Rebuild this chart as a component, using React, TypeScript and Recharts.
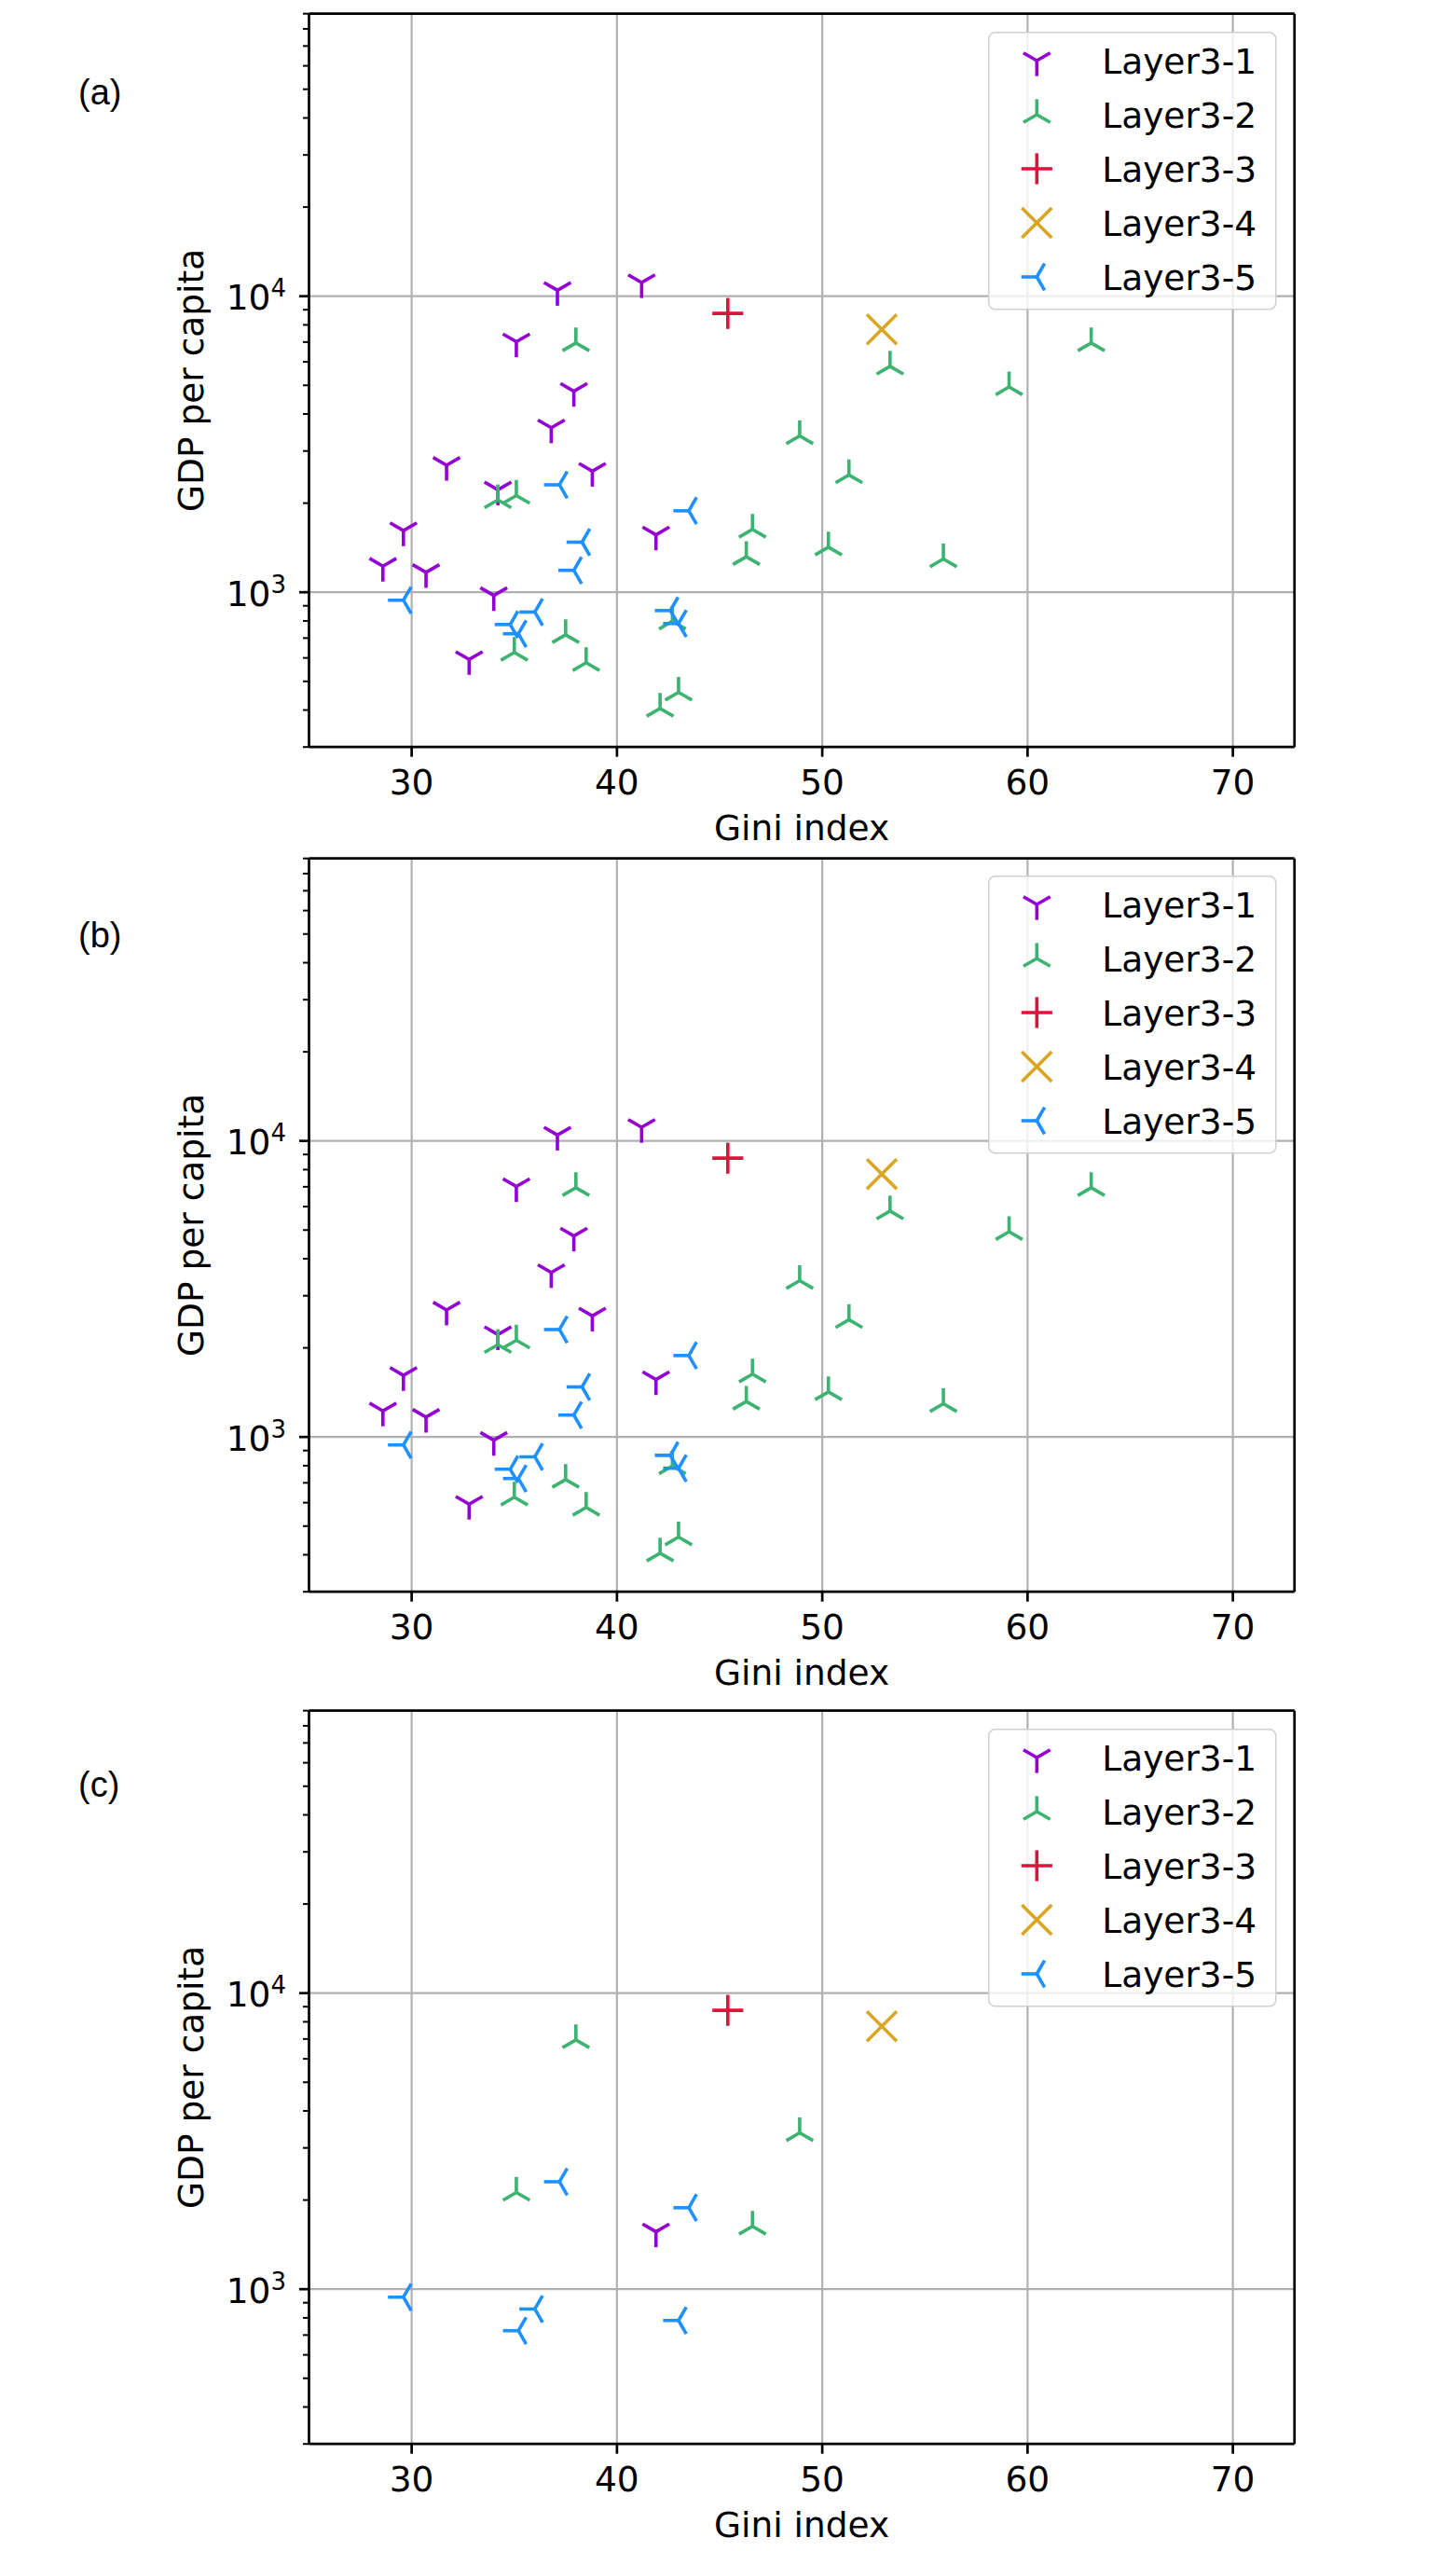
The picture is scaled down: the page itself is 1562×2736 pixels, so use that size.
import { Legend, ReferenceLine, Scatter, ScatterChart, XAxis, YAxis } from 'recharts'

interface Point {
  gini: number
  gdp: number
}

// full set, shown in panels (a) and (b)
const layer1: Point[] = [
  { gini: 37.1, gdp: 10470 },
  { gini: 41.2, gdp: 11120 },
  { gini: 35.1, gdp: 7015 },
  { gini: 37.9, gdp: 4775 },
  { gini: 36.8, gdp: 3595 },
  { gini: 31.7, gdp: 2686 },
  { gini: 38.8, gdp: 2564 },
  { gini: 34.2, gdp: 2218 },
  { gini: 29.6, gdp: 1615 },
  { gini: 28.6, gdp: 1225 },
  { gini: 30.7, gdp: 1167 },
  { gini: 34.0, gdp: 975 },
  { gini: 32.8, gdp: 593 },
  { gini: 41.9, gdp: 1563 },
]

const layer2: Point[] = [
  { gini: 38.0, gdp: 6950 },
  { gini: 48.9, gdp: 3373 },
  { gini: 34.2, gdp: 2050 },
  { gini: 35.1, gdp: 2122 },
  { gini: 46.6, gdp: 1630 },
  { gini: 50.3, gdp: 1420 },
  { gini: 46.3, gdp: 1318 },
  { gini: 37.5, gdp: 718 },
  { gini: 35.0, gdp: 626 },
  { gini: 38.5, gdp: 578 },
  { gini: 43.0, gdp: 459 },
  { gini: 42.1, gdp: 405 },
  { gini: 42.7, gdp: 798 },
  { gini: 53.3, gdp: 5795 },
  { gini: 59.1, gdp: 4935 },
  { gini: 63.1, gdp: 6950 },
  { gini: 55.9, gdp: 1295 },
  { gini: 51.3, gdp: 2490 },
]

const layer3: Point[] = [{ gini: 45.4, gdp: 8745 }]

const layer4: Point[] = [{ gini: 52.9, gdp: 7731 }]

const layer5: Point[] = [
  { gini: 37.2, gdp: 2306 },
  { gini: 43.5, gdp: 1884 },
  { gini: 38.3, gdp: 1476 },
  { gini: 37.9, gdp: 1186 },
  { gini: 29.6, gdp: 940 },
  { gini: 36.0, gdp: 857 },
  { gini: 34.8, gdp: 778 },
  { gini: 35.2, gdp: 724 },
  { gini: 42.6, gdp: 867 },
  { gini: 43.0, gdp: 784 },
]

// reduced set, panel (c)
const layer1c: Point[] = [{ gini: 41.9, gdp: 1563 }]

const layer2c: Point[] = [
  { gini: 38.0, gdp: 6950 },
  { gini: 48.9, gdp: 3373 },
  { gini: 35.1, gdp: 2122 },
  { gini: 46.6, gdp: 1630 },
]

const layer5c: Point[] = [
  { gini: 37.2, gdp: 2306 },
  { gini: 43.5, gdp: 1884 },
  { gini: 29.6, gdp: 940 },
  { gini: 36.0, gdp: 857 },
  { gini: 35.2, gdp: 724 },
  { gini: 43.0, gdp: 784 },
]

const seriesNames = ['Layer3-1', 'Layer3-2', 'Layer3-3', 'Layer3-4', 'Layer3-5']
const xTicks = [30, 40, 50, 60, 70]
const yMajorTicks = [1000, 10000]
const yMinorTicks = [
  300, 400, 500, 600, 700, 800, 900,
  2000, 3000, 4000, 5000, 6000, 7000, 8000, 9000,
  20000, 30000, 40000, 50000, 60000, 70000, 80000, 90000,
]
const xDomain = [25, 73]
const yDomain = [300, 90000]

type MarkerKind = 'tri_down' | 'tri_up' | 'plus' | 'x' | 'tri_left'

const STYLES: { color: string; marker: MarkerKind }[] = [
  { color: '#9400d3', marker: 'tri_down' },
  { color: '#3cb371', marker: 'tri_up' },
  { color: '#dc143c', marker: 'plus' },
  { color: '#daa520', marker: 'x' },
  { color: '#1e90ff', marker: 'tri_left' },
]

const FONT = '"DejaVu Sans", sans-serif'
const FS = 37.5
const CHART_W = 1562
const CHART_H = 925
const PLOT_LEFT = 331.5
const PLOT_RIGHT = 1388.7
const PLOT_TOP = 14.7
const PLOT_H = 786.5
const PLOT_BOTTOM = PLOT_TOP + PLOT_H
const X_AXIS_H = 104
const Y_AXIS_W = 150
const SPINE = 2.7
const GRID = '#b0b0b0'
const LEG_W = 308
const LEG_H = 297

function Marker({ kind, cx, cy, color }: { kind: MarkerKind; cx: number; cy: number; color: string }) {
  const r = 16.6
  const c = 0.866 * r
  let segs: number[][] = []
  if (kind === 'tri_down') segs = [[0, r], [-c, -r / 2], [c, -r / 2]].map(([dx, dy]) => [0, 0, dx, dy])
  if (kind === 'tri_up') segs = [[0, -r], [-c, r / 2], [c, r / 2]].map(([dx, dy]) => [0, 0, dx, dy])
  if (kind === 'tri_left') segs = [[-r, 0], [r / 2, -c], [r / 2, c]].map(([dx, dy]) => [0, 0, dx, dy])
  if (kind === 'plus') segs = [[-r, 0, r, 0], [0, -r, 0, r]]
  if (kind === 'x') segs = [[-16, -16, 16, 16], [-16, 16, 16, -16]]
  return (
    <g stroke={color} strokeWidth={3.6} fill="none">
      {segs.map((s, i) => (
        <line key={i} x1={cx + s[0]} y1={cy + s[1]} x2={cx + s[2]} y2={cy + s[3]} />
      ))}
    </g>
  )
}

function XTick(props: any) {
  const { x, payload } = props
  return (
    <text x={x} y={PLOT_BOTTOM + 51} textAnchor="middle" fontFamily={FONT} fontSize={FS} fill="#000">
      {payload.value}
    </text>
  )
}

function YTick(props: any) {
  const { y, payload } = props
  const v = payload.value
  const major = yMajorTicks.includes(v)
  return (
    <g>
      <line
        x1={PLOT_LEFT - (major ? 10.5 : 6.5)}
        x2={PLOT_LEFT}
        y1={y}
        y2={y}
        stroke="#000"
        strokeWidth={major ? 2.7 : 2}
      />
      {major && (
        <text x={PLOT_LEFT - 24.5} y={y + 14.4} textAnchor="end" fontFamily={FONT} fontSize={FS} fill="#000">
          10
          <tspan dy={-14} fontSize={26}>
            {Math.round(Math.log10(v))}
          </tspan>
        </text>
      )}
    </g>
  )
}

function LegendBox() {
  return (
    <svg width={LEG_W + 2} height={LEG_H + 2} style={{ display: 'block', overflow: 'visible' }}>
      <rect x={0.75} y={0.75} width={LEG_W} height={LEG_H} rx={7} fill="rgba(255,255,255,0.8)" stroke="#d0d0d0" strokeWidth={1.5} />
      {seriesNames.map((name, i) => {
        const cy = 31 + 58 * i
        return (
          <g key={name}>
            <Marker kind={STYLES[i].marker} cx={52.3} cy={cy} color={STYLES[i].color} />
            <text x={122.3} y={cy + 13.7} fontFamily={FONT} fontSize={FS} fill="#000">
              {name}
            </text>
          </g>
        )
      })}
    </svg>
  )
}

function Panel({ top, label, labelBaseline, layers }: { top: number; label: string; labelBaseline: number; layers: Point[][] }) {
  return (
    <>
      <svg width={200} height={60} style={{ position: 'absolute', left: 0, top: labelBaseline - 45 }}>
        <text x={84} y={45} fontFamily='"Liberation Sans", Arial, sans-serif' fontSize={38} fill="#000">
          {label}
        </text>
      </svg>
      <div style={{ position: 'absolute', left: 0, top }}>
        <ScatterChart
          width={CHART_W}
          height={CHART_H}
          margin={{
            top: PLOT_TOP,
            right: CHART_W - PLOT_RIGHT,
            bottom: CHART_H - PLOT_BOTTOM - X_AXIS_H,
            left: PLOT_LEFT - Y_AXIS_W,
          }}
        >
          <XAxis
            xAxisId="x"
            dataKey="gini"
            type="number"
            domain={xDomain}
            allowDataOverflow
            ticks={xTicks}
            interval={0}
            height={X_AXIS_H}
            tickSize={10.5}
            tickLine={{ stroke: '#000', strokeWidth: SPINE }}
            axisLine={{ stroke: '#000', strokeWidth: SPINE }}
            tick={<XTick />}
            label={() => (
              <text x={(PLOT_LEFT + PLOT_RIGHT) / 2} y={PLOT_BOTTOM + 99.7} textAnchor="middle" fontFamily={FONT} fontSize={FS} fill="#000">
                Gini index
              </text>
            )}
          />
          <YAxis
            yAxisId="y"
            dataKey="gdp"
            type="number"
            scale="log"
            domain={yDomain}
            allowDataOverflow
            ticks={[...yMinorTicks, ...yMajorTicks].sort((a, b) => a - b)}
            interval={0}
            width={Y_AXIS_W}
            tickLine={false}
            tickSize={0}
            axisLine={{ stroke: '#000', strokeWidth: SPINE }}
            tick={<YTick />}
            label={() => (
              <text
                x={PLOT_LEFT - 113.2}
                y={PLOT_TOP + PLOT_H / 2}
                transform={`rotate(-90, ${PLOT_LEFT - 113.2}, ${PLOT_TOP + PLOT_H / 2})`}
                textAnchor="middle"
                fontFamily={FONT}
                fontSize={FS}
                fill="#000"
              >
                GDP per capita
              </text>
            )}
          />
          {xTicks.map((v) => (
            <ReferenceLine key={`gx${v}`} xAxisId="x" yAxisId="y" x={v} stroke={GRID} strokeWidth={2.2} />
          ))}
          {yMajorTicks.map((v) => (
            <ReferenceLine key={`gy${v}`} xAxisId="x" yAxisId="y" y={v} stroke={GRID} strokeWidth={2.2} />
          ))}
          {/* top and right spines */}
          <ReferenceLine xAxisId="x" yAxisId="y" x={xDomain[1]} stroke="#000" strokeWidth={SPINE} />
          <ReferenceLine xAxisId="x" yAxisId="y" y={yDomain[1]} stroke="#000" strokeWidth={SPINE} />
          {layers.map((data, i) => (
            <Scatter
              key={seriesNames[i]}
              name={seriesNames[i]}
              data={data}
              xAxisId="x"
              yAxisId="y"
              isAnimationActive={false}
              shape={(p: any) => <Marker kind={STYLES[i].marker} cx={p.cx} cy={p.cy} color={STYLES[i].color} />}
            />
          ))}
          <Legend
            layout="vertical"
            align="center"
            verticalAlign="middle"
            content={() => <LegendBox />}
            wrapperStyle={{ left: 1060.3, top: 33.6, width: LEG_W + 2, height: LEG_H + 2, right: 'auto', bottom: 'auto' }}
          />
        </ScatterChart>
      </div>
    </>
  )
}

export default function App() {
  return (
    <div style={{ position: 'absolute', left: 0, top: 0, width: 1562, height: 2736, background: '#fff' }}>
      <Panel top={0} label="(a)" labelBaseline={112} layers={[layer1, layer2, layer3, layer4, layer5]} />
      <Panel top={905.5} label="(b)" labelBaseline={1016.3} layers={[layer1, layer2, layer3, layer4, layer5]} />
      <Panel top={1820} label="(c)" labelBaseline={1926.6} layers={[layer1c, layer2c, layer3, layer4, layer5c]} />
    </div>
  )
}
